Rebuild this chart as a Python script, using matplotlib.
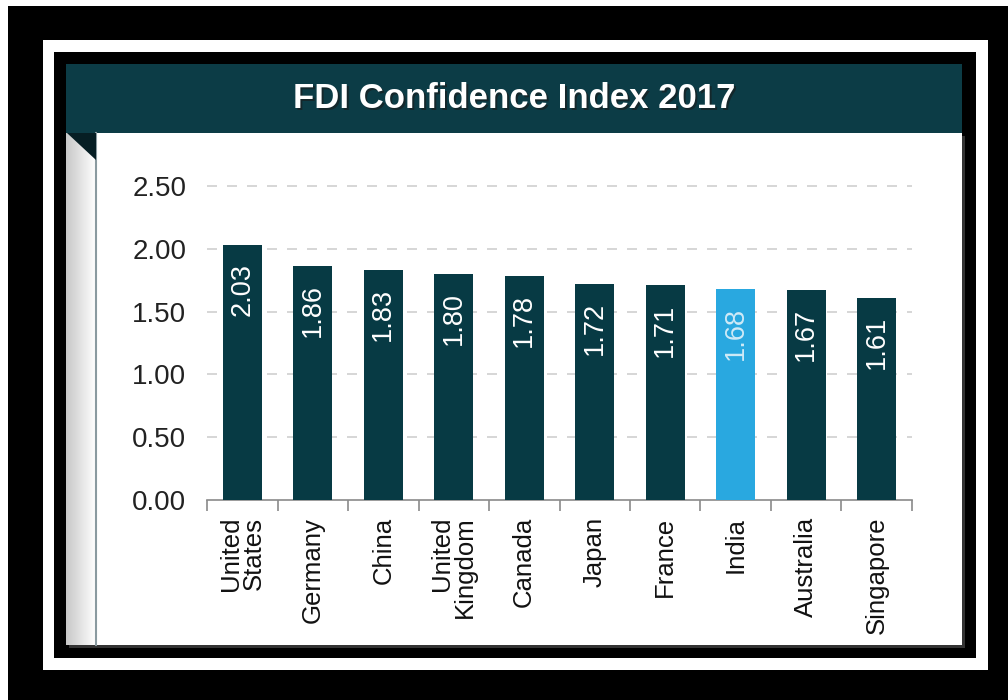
import matplotlib
matplotlib.use("Agg")
import matplotlib.pyplot as plt
import numpy as np
from matplotlib.patches import Rectangle, Polygon

# ---- data ----
countries = ["United\nStates", "Germany", "China", "United\nKingdom", "Canada",
             "Japan", "France", "India", "Australia", "Singapore"]
values = [2.03, 1.86, 1.83, 1.80, 1.78, 1.72, 1.71, 1.68, 1.67, 1.61]
highlight = "India"
title = "FDI Confidence Index 2017"
yticks = [0.0, 0.5, 1.0, 1.5, 2.0, 2.5]

plt.rcParams['font.family'] = ['Liberation Sans', 'DejaVu Sans']

W, H = 1008, 700
fig = plt.figure(figsize=(W / 100, H / 100), dpi=100, facecolor="white")

# ---- background frames (pixel coordinates) ----
bg = fig.add_axes([0, 0, 1, 1])
bg.set_xlim(0, W)
bg.set_ylim(H, 0)
bg.axis("off")

def rect(x0, y0, x1, y1, color, z=0, **kw):
    bg.add_patch(Rectangle((x0, y0), x1 - x0, y1 - y0, facecolor=color,
                           edgecolor="none", zorder=z, **kw))

teal = "#0c3c46"
rect(8, 6, W, H, "black", 1)
rect(43, 40, 988, 670, "white", 2)
rect(54, 52, 976, 658, "black", 3)
# soft shadow of the panel
rect(69, 136, 965, 648, "#666666", 4, alpha=0.5)
rect(66, 64, 962, 133, teal, 5)
rect(66, 133, 962, 645, "white", 5)
# left strip gradient
grad = np.linspace(0.78, 1.0, 60).reshape(1, -1)
bg.imshow(grad, extent=(66, 96, 645, 133), cmap="gray", vmin=0, vmax=1,
          aspect="auto", zorder=6, interpolation="bicubic")
bg.plot([96, 96], [133, 645], color="#8a9aa0", lw=1.5, zorder=7)
bg.add_patch(Polygon([(67, 133), (96, 133), (96, 160)], closed=True,
                     facecolor="#061e24", edgecolor="none", zorder=8))
# title with faint shadow
bg.text(516, 101, title, color="#1a1a1a", fontsize=25, fontweight="bold",
        ha="center", va="center", zorder=8, alpha=0.6)
bg.text(514, 99, title, color="white", fontsize=25, fontweight="bold",
        ha="center", va="center", zorder=9)

# ---- main chart ----
ax_l, ax_r = 207, 912
y0_px, unit = 500, 125.6
ymax = 2.75
ax = fig.add_axes([ax_l / W, (H - y0_px) / H, (ax_r - ax_l) / W,
                   ymax * unit / H])
ax.set_facecolor("none")

x = np.arange(len(countries))
bar_colors = ["#29a8e0" if c == highlight else "#073a44" for c in countries]
ax.bar(x, values, width=0.56, color=bar_colors, zorder=3)

for xi, v, c in zip(x, values, countries):
    ax.annotate(f"{v:.2f}", (xi, v), xytext=(0, -13), textcoords="offset points",
                rotation=90, ha="center", va="top", fontsize=19.5,
                color="#cfeaf7" if c == highlight else "white", zorder=4)

ax.set_xlim(-0.5, len(countries) - 0.5)
ax.set_ylim(0, ymax)
ax.set_yticks(yticks)
ax.set_yticklabels([f"{t:.2f}" for t in yticks], fontsize=20, color="#222222")
ax.tick_params(axis="y", length=0, pad=15)
for t in yticks[1:]:
    ax.axhline(t, color="#cfcfcf", lw=1.2, ls=(0, (6, 6)), zorder=1)

ax.set_xticks(x)
ax.set_xticklabels(countries, rotation=90, fontsize=18.5, color="#111111",
                   va="top", ha="center", linespacing=0.95)
for lab in ax.get_xticklabels():
    lab.set_multialignment("right")
ax.tick_params(axis="x", which="major", length=0, pad=12)
ax.set_xticks(np.arange(-0.5, len(countries)), minor=True)
ax.tick_params(axis="x", which="minor", length=8, color="#8a8a8a", width=1.2)

for s in ["top", "right", "left"]:
    ax.spines[s].set_visible(False)
ax.spines["bottom"].set_color("#8a8a8a")
ax.spines["bottom"].set_linewidth(1.2)

fig.savefig("out.png", dpi=100, facecolor=fig.get_facecolor())
